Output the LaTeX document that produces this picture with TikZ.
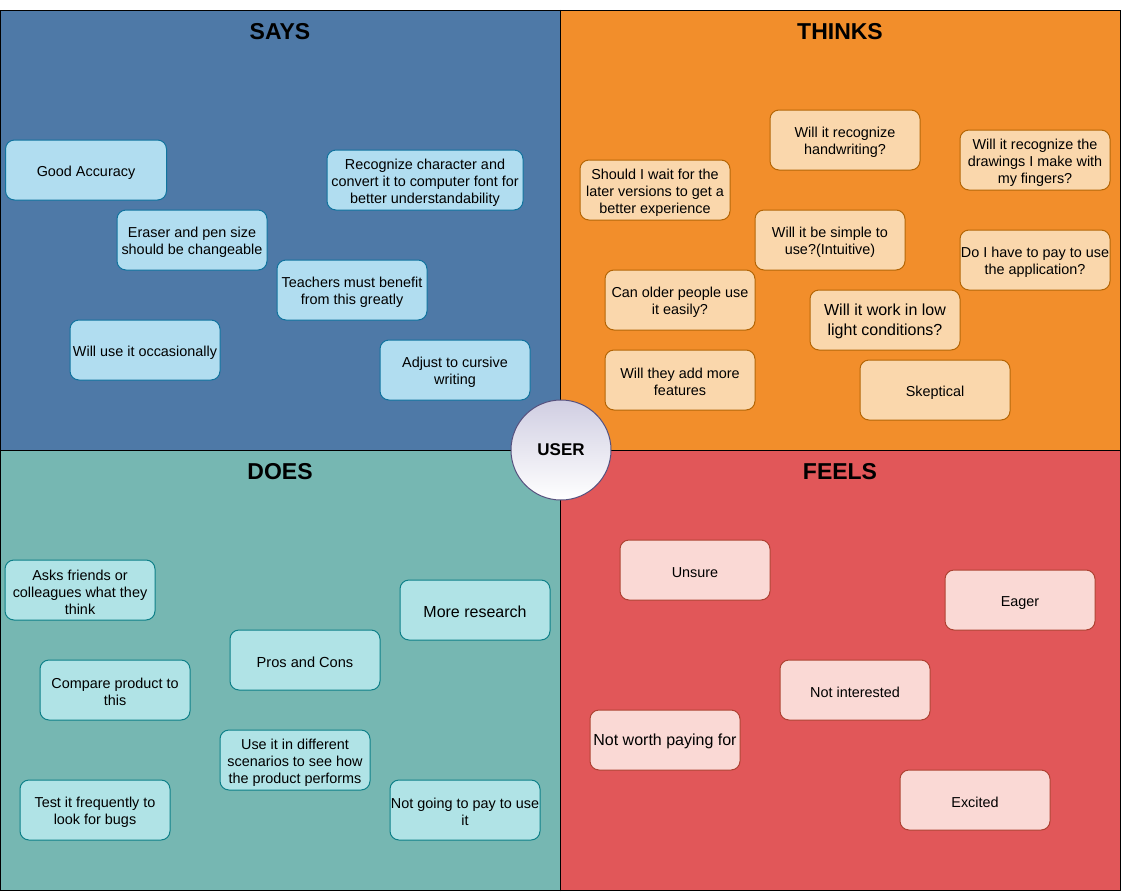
\documentclass[tikz,border=0pt]{standalone}
\usepackage{fontspec}
\setmainfont{Liberation Sans}

\definecolor{saysbg}{HTML}{4E79A7}
\definecolor{thinksbg}{HTML}{F28E2B}
\definecolor{doesbg}{HTML}{76B7B2}
\definecolor{feelsbg}{HTML}{E15759}
\definecolor{saysfill}{HTML}{B1DDF0}
\definecolor{saysline}{HTML}{10739E}
\definecolor{thinksfill}{HTML}{FAD7AC}
\definecolor{thinksline}{HTML}{B46504}
\definecolor{doesfill}{HTML}{B0E3E6}
\definecolor{doesline}{HTML}{0E8088}
\definecolor{feelsfill}{HTML}{FAD9D5}
\definecolor{feelsline}{HTML}{AE4132}
\definecolor{userline}{HTML}{56517E}
\definecolor{usertop}{HTML}{D0CEE2}

\newcommand{\notefont}{\fontsize{14.4}{17}\selectfont}
\newcommand{\bignotefont}{\fontsize{16}{20}\selectfont}
% taller first line, so the text sits a little lower in its card
\newcommand{\topstrut}{\rule{0pt}{15pt}}

\begin{document}
\begin{tikzpicture}[x=1pt,y=-1pt,line cap=round,
  card/.style={rounded corners=9pt,minimum width=150pt,minimum height=60pt,
    inner sep=0pt,align=center,line width=1pt,font=\notefont,
    execute at begin node={\topstrut}},
  saycard/.style={card,fill=saysfill,draw=saysline},
  thinkcard/.style={card,fill=thinksfill,draw=thinksline},
  docard/.style={card,fill=doesfill,draw=doesline},
  feelcard/.style={card,fill=feelsfill,draw=feelsline},
  title/.style={font=\fontsize{23}{27}\selectfont\bfseries}]
  \useasboundingbox (0,0) rectangle (1121,891);

  % quadrants
  \fill[saysbg] (0,10) rectangle (560.5,450.5);
  \fill[thinksbg] (560.5,10) rectangle (1120.5,450.5);
  \fill[doesbg] (0,450.5) rectangle (560.5,890.5);
  \fill[feelsbg] (560.5,450.5) rectangle (1120.5,890.5);
  \draw[line width=1pt] (0.5,10.5) rectangle (1120.5,890.5);
  \draw[line width=1pt] (560.5,10.5) -- (560.5,890.5);
  \draw[line width=1pt] (0.5,450.5) -- (1120.5,450.5);

  \node[title] (saystitle) at (280,32) {SAYS};
  \node[title] (thinkstitle) at (840,32) {THINKS};
  \node[title] (doestitle) at (280,472) {DOES};
  \node[title] (feelstitle) at (840,472) {FEELS};

  % says
  \node[saycard,minimum width=161pt] (goodacc) at (86,170) {Good Accuracy};
  \node[saycard,minimum width=196pt] (recog) at (425,180)
    {\topstrut Recognize character and\\convert it to computer font for\\better understandability};
  \node[saycard] (eraser) at (192,240) {\topstrut Eraser and pen size\\should be changeable};
  \node[saycard] (teachers) at (352,290) {\topstrut Teachers must benefit\\from this greatly};
  \node[saycard] (occas) at (145,350) {Will use it occasionally};
  \node[saycard] (cursive) at (455,370) {\topstrut Adjust to cursive\\writing};

  % thinks
  \node[thinkcard] (handwr) at (845,140) {\topstrut Will it recognize\\handwriting?};
  \node[thinkcard] (drawings) at (1035,160)
    {\topstrut Will it recognize the\\drawings I make with\\my fingers?};
  \node[thinkcard] (waitver) at (655,190)
    {\topstrut Should I wait for the\\later versions to get a\\better experience};
  \node[thinkcard] (simple) at (830,240) {\topstrut Will it be simple to\\use?(Intuitive)};
  \node[thinkcard] (pay) at (1035,260) {\topstrut Do I have to pay to use\\the application?};
  \node[thinkcard] (older) at (680,300) {\topstrut Can older people use\\it easily?};
  \node[thinkcard,font=\bignotefont] (lowlight) at (885,320)
    {\topstrut Will it work in low\\light conditions?};
  \node[thinkcard] (features) at (680,380) {\topstrut Will they add more\\features};
  \node[thinkcard] (skeptic) at (935,390) {Skeptical};

  % does
  \node[docard] (asks) at (80,590) {\topstrut Asks friends or\\colleagues what they\\think};
  \node[docard,font=\bignotefont] (research) at (475,610) {More research};
  \node[docard,font=\fontsize{14.6}{18}\selectfont] (proscons) at (305,660) {Pros and Cons};
  \node[docard] (compare) at (115,690) {\topstrut Compare product to\\this};
  \node[docard] (scenarios) at (295,760)
    {\topstrut Use it in different\\scenarios to see how\\the product performs};
  \node[docard] (bugs) at (95,810) {\topstrut Test it frequently to\\look for bugs};
  \node[docard] (nopay) at (465,810) {\topstrut Not going to pay to use\\it};

  % feels
  \node[feelcard] (unsure) at (695,570) {Unsure};
  \node[feelcard] (eager) at (1020,600) {Eager};
  \node[feelcard] (notint) at (855,690) {Not interested};
  \node[feelcard,font=\bignotefont] (notworth) at (665,740) {Not worth paying for};
  \node[feelcard] (excited) at (975,800) {Excited};

  % centre
  \node[circle,minimum size=100pt,inner sep=0pt,draw=userline,line width=1pt,
    top color=usertop,bottom color=white,font=\fontsize{17}{20}\selectfont\bfseries]
    (user) at (561,450) {USER};
\end{tikzpicture}
\end{document}
